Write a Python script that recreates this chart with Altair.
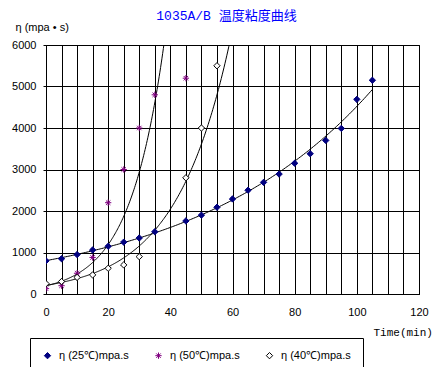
import altair as alt
import numpy as np
import pandas as pd

# ---- data ----
series = ["η (25℃)mpa.s", "η (50℃)mpa.s", "η (40℃)mpa.s"]

x25 = [0, 5, 10, 15, 20, 25, 30, 35, 45, 50, 55, 60, 65, 70, 75, 80, 85, 90, 95, 100, 105]
y25 = [800, 850, 950, 1060, 1150, 1250, 1350, 1500, 1760, 1900, 2090, 2290, 2500, 2690,
       2890, 3150, 3380, 3700, 3990, 4690, 5150]

x50 = [0, 5, 10, 15, 20, 25, 30, 35, 45]
y50 = [130, 200, 500, 880, 2200, 3000, 4000, 4800, 5200]

x40 = [0, 5, 10, 15, 20, 25, 30, 45, 50, 55]
y40 = [250, 300, 400, 460, 620, 700, 900, 2800, 4000, 5500]

trend_end = [105, 45, 60]  # x extent of each exponential trendline

x_ticks = list(range(0, 121, 5))
y_ticks = list(range(0, 6001, 1000))

colors_stroke = ["#000080", "#800080", "#000000"]
colors_fill = ["#000080", "transparent", "#ffffff"]
asterisk = "M-1,0L1,0M0,-1L0,1M-0.7,-0.7L0.7,0.7M-0.7,0.7L0.7,-0.7"
shapes = ["diamond", asterisk, "diamond"]

# ---- build tables ----
pts = []
curves = []
for name, xs, ys, xe in zip(series, [x25, x50, x40], [y25, y50, y40], trend_end):
    for a, b in zip(xs, ys):
        pts.append({"t": a, "v": b, "s": name})
    # exponential trendline (least squares on log y, as in a spreadsheet trendline)
    k, c = np.polyfit(np.array(xs, float), np.log(np.array(ys, float)), 1)
    for a in np.linspace(0, xe, 200):
        curves.append({"t": float(a), "v": float(np.exp(c + k * a)), "s": name})

pts = pd.DataFrame(pts)
curves = pd.DataFrame(curves)

xscale = alt.Scale(domain=[0, 120], nice=False)
yscale = alt.Scale(domain=[0, 6000], nice=False)

xaxis = alt.Axis(values=x_ticks, labelExpr="datum.value % 20 == 0 ? datum.label : ''",
                 format="d", tickSize=0, labelPadding=12, labelFont="Liberation Sans",
                 labelFontSize=11, labelColor="black", grid=True, gridColor="black",
                 gridOpacity=1, domainColor="black", title="Time(min)",
                 titleFont="Liberation Mono", titleFontSize=11, titleFontWeight="normal",
                 titleColor="black", titleAlign="left", titleBaseline="middle",
                 titleX=327, titleY=38, labelFlush=False)
yaxis = alt.Axis(values=y_ticks, format="d", tickSize=3, tickColor="black", labelPadding=7,
                 labelFont="Liberation Sans", labelFontSize=11, labelColor="black",
                 grid=True, gridColor="black", gridOpacity=1, domainColor="black",
                 title="η (mpa • s)", titleAngle=0, titleAlign="left", titleBaseline="middle",
                 titleX=-31, titleY=-18, titleFont="Liberation Sans", titleFontSize=11,
                 titleFontWeight="normal", titleColor="black")

lines = alt.Chart(curves).mark_line(color="black", strokeWidth=1, clip=True).encode(
    x=alt.X("t:Q", scale=xscale, axis=xaxis),
    y=alt.Y("v:Q", scale=yscale, axis=yaxis),
    detail="s:N",
)

leg = alt.Legend(title=None)
points = alt.Chart(pts).mark_point(size=40, strokeWidth=1, opacity=1, clip=True).encode(
    x=alt.X("t:Q", scale=xscale, axis=xaxis),
    y=alt.Y("v:Q", scale=yscale, axis=yaxis),
    shape=alt.Shape("s:N", scale=alt.Scale(domain=series, range=shapes), legend=leg),
    stroke=alt.Stroke("s:N", scale=alt.Scale(domain=series, range=colors_stroke), legend=leg),
    fill=alt.Fill("s:N", scale=alt.Scale(domain=series, range=colors_fill), legend=leg),
)

chart = (
    alt.layer(lines, points)
    .properties(
        width=373,
        height=249,
        autosize=alt.AutoSizeParams(type="none"),
        padding={"left": 38, "top": 37, "right": 17, "bottom": 73},
        title=alt.TitleParams("1035A/B 温度粘度曲线", color="#0000FF", fontSize=13,
                              font="Liberation Mono, Noto Sans CJK SC", fontWeight="normal",
                              anchor="middle", offset=-2, dx=-6),
    )
    .configure_view(stroke="black")
    .configure_legend(
        orient="none", legendX=-16, legendY=293, direction="horizontal",
        strokeColor="black", fillColor="white", padding=12, columnPadding=24,
        labelFont="Liberation Sans", labelFontSize=11, labelColor="black",
        symbolSize=40, symbolStrokeWidth=1, labelOffset=6, cornerRadius=0,
    )
)

chart.save("out.html", embed_options={"renderer": "svg", "actions": False})
